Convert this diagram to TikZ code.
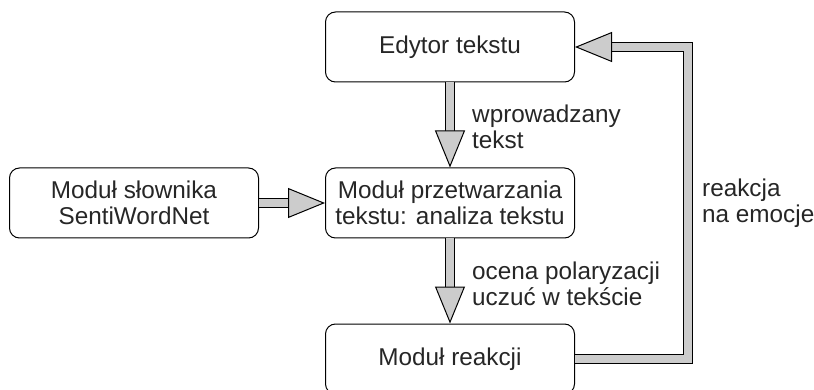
\documentclass[tikz,border=0pt]{standalone}
\usepackage{fontspec}
\setmainfont{Liberation Sans}
\usetikzlibrary{arrows.meta}
\begin{document}
\begin{tikzpicture}[x=1pt, y=-1pt, font=\fontsize{24.3}{26}\selectfont,
  box/.style={draw, rounded corners=10pt, minimum width=249pt, minimum height=70pt, align=center, inner sep=0pt, line width=1pt, text=black!85},
  lbl/.style={align=left, anchor=west, inner sep=0pt, text=black!85},
  flow/.style={draw=gray!40, line width=8pt, -{Triangle[length=37pt, width=30pt, line width=1pt, color=black, fill=gray!40]},
    preaction={draw=black, line width=10pt, -, shorten >=34pt}}]
\useasboundingbox (0,0) rectangle (814,390);
\begin{scope}
\node[box] (edytor) at (450,47) {Edytor tekstu};
\node[box] (przetw) at (450,203) {Moduł przetwarzania\\tekstu: analiza tekstu};
\node[box] (slownik) at (134,203) {Moduł słownika\\SentiWordNet};
\node[box] (reakcja) at (450,359) {Moduł reakcji};
\end{scope}
\begin{scope}
\draw[flow] (edytor) -- (przetw);
\draw[flow] (slownik) -- (przetw);
\draw[flow] (przetw) -- (reakcja);
\draw[flow] (reakcja.east) -- ++(113,0) |- (edytor.east);
\end{scope}
\node[lbl] (wpr) at (472,127) {wprowadzany\\tekst};
\node[lbl] (ocena) at (472,284) {ocena polaryzacji\\uczuć w tekście};
\node[lbl] (emocje) at (702,203) {reakcja\\na emocje};
\end{tikzpicture}
\end{document}
